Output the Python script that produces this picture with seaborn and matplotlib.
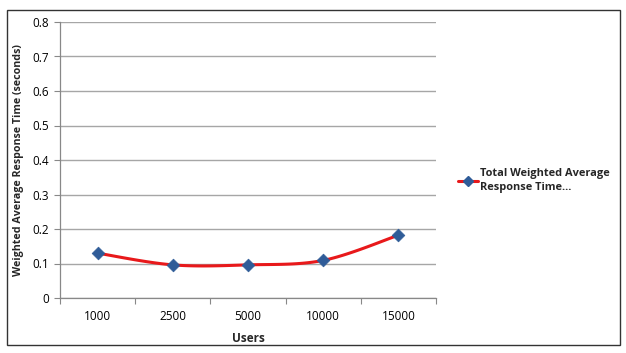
import numpy as np
import pandas as pd
import matplotlib
matplotlib.use("Agg")
import matplotlib.pyplot as plt
import seaborn as sns
from matplotlib.lines import Line2D
from matplotlib.patches import Rectangle

users = ["1000", "2500", "5000", "10000", "15000"]
response = [0.130, 0.096, 0.096, 0.109, 0.182]
series_name = "Total Weighted Average\nResponse Time..."

sns.set_theme(style="white")
plt.rcParams["font.family"] = ["Open Sans", "DejaVu Sans"]

W, H = 626, 353
fig = plt.figure(figsize=(W / 100, H / 100), dpi=100)
ax = fig.add_axes([60 / W, 1 - 298 / H, (436 - 60) / W, (298 - 22) / H])

x = np.arange(len(users), dtype=float)
y = np.array(response)

# Excel-like smooth curve (Catmull-Rom Bezier) through data points
def smooth(xs, ys, n=30, t=1/6):
    px, py = [], []
    N = len(xs)
    for i in range(N - 1):
        x0, y0 = (xs[i - 1], ys[i - 1]) if i > 0 else (xs[i], ys[i])
        x1, y1 = xs[i], ys[i]
        x2, y2 = xs[i + 1], ys[i + 1]
        x3, y3 = (xs[i + 2], ys[i + 2]) if i + 2 < N else (xs[i + 1], ys[i + 1])
        c1x, c1y = x1 + (x2 - x0) * t, y1 + (y2 - y0) * t
        c2x, c2y = x2 - (x3 - x1) * t, y2 - (y3 - y1) * t
        s = np.linspace(0, 1, n)
        bx = (1 - s) ** 3 * x1 + 3 * (1 - s) ** 2 * s * c1x + 3 * (1 - s) * s ** 2 * c2x + s ** 3 * x2
        by = (1 - s) ** 3 * y1 + 3 * (1 - s) ** 2 * s * c1y + 3 * (1 - s) * s ** 2 * c2y + s ** 3 * y2
        px.extend(bx)
        py.extend(by)
    return np.array(px), np.array(py)

sx, sy = smooth(x, y)
curve = pd.DataFrame({"x": sx, "y": sy})
sns.lineplot(data=curve, x="x", y="y", sort=False, color="#E8191B", linewidth=2.2, ax=ax, zorder=3)
pts = pd.DataFrame({"x": x, "y": y})
sns.scatterplot(data=pts, x="x", y="y", marker="D", s=42, color="#2F5C98",
                edgecolor="#2F5C98", linewidth=0.5, ax=ax, zorder=4)

ax.set_xlim(-0.5, len(users) - 0.5)
ax.set_ylim(0, 0.8)
ax.set_yticks(np.arange(0, 0.81, 0.1))
ax.set_yticklabels(["0"] + [f"{v:.1f}" for v in np.arange(0.1, 0.81, 0.1)])
ax.set_xticks(x)
ax.set_xticklabels(users)
ax.set_xticks(np.arange(-0.5, len(users), 1.0), minor=True)
ax.tick_params(axis="x", which="major", length=0, pad=9, labelsize=8.5, colors="black")
ax.tick_params(axis="x", which="minor", length=4, width=0.8, color="#888888", direction="out", bottom=True)
ax.tick_params(axis="y", length=4, width=0.8, color="#888888", direction="out", left=True, labelsize=8.5, pad=4, colors="black")

ax.grid(axis="y", color="#A6A6A6", linewidth=1)
ax.set_axisbelow(True)
for s in ["top", "right"]:
    ax.spines[s].set_visible(False)
for s in ["left", "bottom"]:
    ax.spines[s].set_color("#888888")
    ax.spines[s].set_linewidth(0.9)

ax.set_xlabel("Users", fontsize=8.5, fontweight="bold", labelpad=6)
ax.set_ylabel("Weighted Average Response Time (seconds)", fontsize=7.7, fontweight="bold", labelpad=6)

handle = Line2D([0], [0], color="#E8191B", linewidth=2.2, marker="D", markersize=5,
                markerfacecolor="#2F5C98", markeredgecolor="#2F5C98")
leg = fig.legend([handle], [series_name], loc="upper left", bbox_to_anchor=(448 / W, 1 - 158 / H),
                 frameon=False, handlelength=1.8, handletextpad=0.2,
                 prop={"weight": "bold", "size": 7.9})
for t in leg.get_texts():
    t.set_linespacing(1.45)

fig.patches.append(Rectangle((7 / W, 1 - 345 / H), (620 - 7) / W, (345 - 10) / H,
                             transform=fig.transFigure, fill=False, edgecolor="#333333",
                             linewidth=1.0))

fig.savefig("out.png", dpi=100)
